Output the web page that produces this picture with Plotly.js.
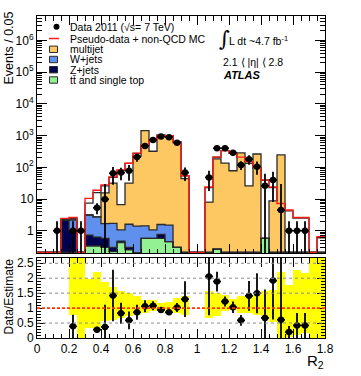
<!DOCTYPE html>
<html>
<head>
<meta charset="utf-8">
<script src="https://cdn.plot.ly/plotly-3.0.1.min.js"></script>
<style>
  body { margin: 0; background: #fff; }
  #chart { width: 361px; height: 376px; }
</style>
</head>
<body>
<div id="chart"></div>
<script>
// R2 histogram, 36 bins of 0.05 from 0 to 1.8
const binWidth = 0.05;
const nBins = 36;

// stacked backgrounds (per bin)
const ttbar    = [0, 0, 0, 0, 0, 0, 0.33, 0.33, 0.3, 0.22, 0.42, 0.25, 0.2, 0.57, 0.57, 0.57, 0.45, 0.3,
                  0, 0, 0, 0, 0.26, 0, 0, 0, 0, 0, 0.57, 0, 0, 0, 0, 0, 0, 0];
const zjets    = [0, 0, 0, 2.2, 1.0, 0, 0.4, 0.3, 0.27, 0.08, 0.05, 0.05, 0, 0, 0, 0.2, 0, 0,
                  0, 0, 0, 0, 0, 0, 0, 0, 0, 0, 0, 0, 0, 0, 0, 0, 0, 0];
const wjets    = [0, 0, 0, 0, 1.2, 0, 2.4, 2.1, 1.1, 1.4, 0.6, 1.3, 1.2, 0.85, 0.5, 0.8, 1.05, 0,
                  0, 0, 0, 0, 0, 0, 0, 0, 0, 0, 0, 0, 0, 0, 0, 0, 0, 0];
const multijet = [0, 0, 0, 0, 0, 0, 0, 0, 14, 30, 5.6, 30, 220, 1440, 320, 1050, 975, 640,
                  44, 0, 0, 8, 185, 135, 78, 285, 26, 263, 0, 8.7, 245, 0, 0, 0, 0, 0];

// pseudo-data histogram (white, drawn behind the stack)
const pseudoData = [0, 0, 0, 2.35, 2.45, 0, 7.4, 16, 26, 48, 80, 133, 275, 500, 720, 990, 1000, 600,
                    54, 0, 0, 23, 208, 335, 275, 210, 133, 95, 39, 23, 7, 4.2, 2.5, 2.5, 0, 0.6];
// pseudo-data + non-QCD MC (red line)
const pseudoPlusMC = [0, 0, 0, 2.45, 2.6, 0, 10.5, 19, 28, 50, 82, 135, 280, 500, 720, 990, 1000, 600,
                      54, 0, 0, 24, 210, 335, 275, 210, 150, 100, 40, 24, 7.2, 4.5, 2.6, 2.6, 0, 0.65];

// data 2011
const dataVals = [null, null, 1, null, 1, 1, null, 5.3, 9.8, 65, 68, 78, 210, 470, 730, 930, 890, 600,
                  68, null, null, 48, 400, 400, 290, 118, 180, 105, 26, 40, 4.5, 1, 1, 1, null, null];
const dataErr  = [null, null, 1, null, 1, 1, null, 2, 20, 37, 29, 40, 60, 90, 100, 95, 80, 90,
                  31, null, null, 30, 70, 55, 55, 36, 60, 47, 37, 32, 25, 1, 1, 1, null, null];

// ratio panel
const ratioVals = [null, null, null, null, 0.39, null, null, 0.28, 0.37, 1.42, 0.83, 0.59, 0.86, 1.06, 1.08, 0.94, 0.86, 1.02,
                   1.3, null, null, 2.06, 1.89, 1.22, 1.03, 0.59, 1.41, 1.5, 0.67, 1.92, 0.61, 0.2, 0.42, 0.42, null, null];
const ratioErr  = [null, null, null, null, 0.39, null, null, 0.1, 0.74, 0.86, 0.35, 0.3, 0.25, 0.2, 0.15, 0.1, 0.08, 0.15,
                   0.6, null, null, 1.3, 0.33, 0.17, 0.19, 0.18, 0.5, 0.67, 0.95, 1.3, 2.5, 0.2, 0.42, 0.42, null, null];
const bandLo = [null, null, null, null, 0.78, 0, 0.33, 0.22, 0.56, 0.61, 0.67, 0.72, 0.78, 0.83, 0.89, 0.89, 0.86, 0.83,
                0.78, null, null, 0.67, 0.72, 0.89, 0.95, 0.83, 0.83, 0.78, 0.67, 0.55, 0, 0.05, 0.1, 0.17, 0, 0];
const bandHi = [null, null, null, null, 2.8, 2.8, 1.97, 2.22, 1.89, 1.72, 1.56, 1.52, 1.39, 1.28, 1.28, 1.17, 1.19, 1.33,
                1.39, null, null, 1.56, 1.5, 1.44, 1.3, 1.39, 1.39, 1.44, 1.56, 1.6, 2.22, 1.78, 2.28, 2.17, 2.8, 2.8];

const ratioGrid = [0.5, 1.5, 2, 2.5];
const logTicks = [1, 10, 100, 1e3, 1e4, 1e5, 1e6];
const logTickText = ['1', '10', '10<sup>2</sup>', '10<sup>3</sup>', '10<sup>4</sup>', '10<sup>5</sup>', '10<sup>6</sup>'];

const binCenters = Array.from({length: nBins}, (_, i) => (i + 0.5) * binWidth);
const binEdges = Array.from({length: nBins + 1}, (_, i) => i * binWidth);

const colors = {
    multijet: '#fdc862',
    wjets: '#5f90ee',
    zjets: '#00004f',
    ttbar: '#93f093',
    outline: '#2b2b2b',
    red: '#ff1a1a',
    band: '#ffff00'
};

const yLogRange = [-0.703, 6.773];
const floorVal = Math.pow(10, yLogRange[0] + 0.02);

function stepTrace(vals, color, width, yaxis) {
    const y = vals.map(v => v > 0 ? v : floorVal);
    y.push(y[y.length - 1]);
    return {
        type: 'scatter', mode: 'lines', x: binEdges, y: y, yaxis: yaxis,
        line: {shape: 'hv', color: color, width: width},
        hoverinfo: 'skip', showlegend: false
    };
}

function barTrace(vals, color, yaxis) {
    return {
        type: 'bar', x: binCenters, y: vals, width: binWidth, yaxis: yaxis,
        marker: {color: color, line: {width: 0}},
        hoverinfo: 'skip', showlegend: false
    };
}

// cumulative levels for the stack outlines
const cumZ = ttbar.map((v, i) => v + zjets[i]);
const cumW = cumZ.map((v, i) => v + wjets[i]);
const cumAll = cumW.map((v, i) => v + multijet[i]);

const traces = [
    // behind: pseudo-data in white
    barTrace(pseudoData, '#ffffff', 'y'),
    stepTrace(pseudoData, colors.outline, 1.3, 'y'),
    // stack on the overlaying axis
    barTrace(ttbar, colors.ttbar, 'y3'),
    barTrace(zjets, colors.zjets, 'y3'),
    barTrace(wjets, colors.wjets, 'y3'),
    barTrace(multijet, colors.multijet, 'y3'),
    stepTrace(ttbar, colors.outline, 1.3, 'y3'),
    stepTrace(cumZ, colors.outline, 1.3, 'y3'),
    stepTrace(cumW, colors.outline, 1.3, 'y3'),
    stepTrace(cumAll, colors.outline, 1.3, 'y3'),
    stepTrace(pseudoPlusMC, colors.red, 1.4, 'y3'),
    {
        type: 'scatter', mode: 'markers', x: binCenters, y: dataVals, yaxis: 'y3',
        marker: {color: 'black', size: 6.5},
        error_y: {type: 'data', array: dataErr, visible: true, color: 'black', thickness: 1.8, width: 0},
        error_x: {type: 'constant', value: binWidth / 2, visible: true, color: 'black', thickness: 1.8, width: 0},
        hoverinfo: 'skip', showlegend: false
    },
    // ratio panel
    {
        type: 'bar', x: binCenters, base: bandLo,
        y: bandHi.map((h, i) => h === null ? null : h - bandLo[i]),
        width: binWidth, xaxis: 'x2', yaxis: 'y2',
        marker: {color: colors.band, line: {width: 0}},
        hoverinfo: 'skip', showlegend: false
    },
    {
        type: 'scatter', mode: 'markers', x: binCenters, y: ratioVals, xaxis: 'x2', yaxis: 'y2',
        marker: {color: 'black', size: 6.5},
        error_y: {type: 'data', array: ratioErr, visible: true, color: 'black', thickness: 1.8, width: 0},
        error_x: {type: 'constant', value: binWidth / 2, visible: true, color: 'black', thickness: 1.8, width: 0},
        hoverinfo: 'skip', showlegend: false
    }
];

// pixel -> paper helpers for the hand-drawn legend and labels
const W = 361, H = 376;
const M = {l: 37, r: 36, t: 16, b: 38};
const px = x => (x - M.l) / (W - M.l - M.r);
const py = y => (H - M.b - y) / (H - M.t - M.b);

const font = {family: 'Liberation Sans, Arial, sans-serif', size: 12, color: 'black'};

const xCommon = {
    range: [0, 1.8], dtick: 0.2, tick0: 0,
    ticks: 'inside', ticklen: 9, tickwidth: 1, tickcolor: 'black',
    showline: true, linecolor: 'black', linewidth: 1, mirror: 'ticks',
    showgrid: false, zeroline: false,
    minor: {ticks: 'inside', ticklen: 4.5, dtick: 0.05, tickcolor: 'black', showgrid: false}
};

const legendRows = [
    {y: 26.7, text: 'Data 2011 (√s= 7 TeV)', kind: 'marker'},
    {y: 38.5, text: 'Pseudo-data + non-QCD MC', kind: 'line'},
    {y: 49.3, text: 'multijet', kind: 'box', color: colors.multijet},
    {y: 59.5, text: 'W+jets', kind: 'box', color: colors.wjets},
    {y: 69.7, text: 'Z+jets', kind: 'box', color: colors.zjets},
    {y: 80.0, text: 'tt\u0304 and single top', kind: 'box', color: colors.ttbar}
];

const shapes = [];
const annotations = [];

legendRows.forEach(row => {
    annotations.push({
        xref: 'paper', yref: 'paper', x: px(67.5), y: py(row.y),
        xanchor: 'left', yanchor: 'middle', showarrow: false,
        text: row.text, font: {family: font.family, size: 10.5, color: 'black'}
    });
    if (row.kind === 'marker') {
        shapes.push({type: 'circle', xref: 'paper', yref: 'paper',
            x0: px(53.5), x1: px(59.5), y0: py(row.y + 3), y1: py(row.y - 3),
            fillcolor: 'black', line: {width: 0}});
    } else if (row.kind === 'line') {
        shapes.push({type: 'line', xref: 'paper', yref: 'paper',
            x0: px(49), x1: px(59), y0: py(row.y), y1: py(row.y),
            line: {color: colors.red, width: 1.5}});
    } else {
        shapes.push({type: 'rect', xref: 'paper', yref: 'paper',
            x0: px(49.5), x1: px(57.5), y0: py(row.y + 3.2), y1: py(row.y - 3.2),
            fillcolor: row.color, line: {color: colors.outline, width: 1}});
    }
});

// ratio panel reference lines
ratioGrid.forEach(v => {
    shapes.push({type: 'line', xref: 'x2', yref: 'y2', x0: 0, x1: 1.8, y0: v, y1: v,
        layer: 'above', line: {color: '#8c8c8c', width: 1, dash: '3px,3px'}});
});
shapes.push({type: 'line', xref: 'x2', yref: 'y2', x0: 0, x1: 1.8, y0: 1, y1: 1,
    layer: 'above', line: {color: '#ff3300', width: 1.8, dash: '3px,2px'}});

annotations.push(
    {xref: 'paper', yref: 'paper', x: px(224), y: py(39), xanchor: 'center', yanchor: 'middle',
     showarrow: false, text: '∫', font: {family: 'DejaVu Serif, serif', size: 21, color: 'black'}},
    {xref: 'paper', yref: 'paper', x: px(226.5), y: py(40.5), xanchor: 'left', yanchor: 'middle',
     showarrow: false, text: 'L dt ~4.7 fb<sup>-1</sup>', font: {family: font.family, size: 10.5, color: 'black'}},
    {xref: 'paper', yref: 'paper', x: px(220.5), y: py(62), xanchor: 'left', yanchor: 'middle',
     showarrow: false, text: '2.1 ⟨ |η| ⟨ 2.8', font: {family: font.family, size: 10.5, color: 'black'}},
    {xref: 'paper', yref: 'paper', x: px(220.5), y: py(74.5), xanchor: 'left', yanchor: 'middle',
     showarrow: false, text: '<b><i>ATLAS</i></b>', font: {family: font.family, size: 11, color: 'black'}},
    {xref: 'paper', yref: 'paper', x: px(8.5), y: py(48), xanchor: 'center', yanchor: 'middle',
     showarrow: false, textangle: -90, text: 'Events / 0.05', font: {family: font.family, size: 12.5, color: 'black'}},
    {xref: 'paper', yref: 'paper', x: px(8.5), y: py(297), xanchor: 'center', yanchor: 'middle',
     showarrow: false, textangle: -90, text: 'Data/Estimate', font: {family: font.family, size: 12, color: 'black'}},
    {xref: 'paper', yref: 'paper', x: px(325.5), y: py(361), xanchor: 'right', yanchor: 'middle',
     showarrow: false, text: 'R<sub>2</sub>', font: {family: font.family, size: 15, color: 'black'}}
);

const layout = {
    width: W, height: H,
    margin: M,
    paper_bgcolor: 'white', plot_bgcolor: 'white',
    font: font,
    showlegend: false,
    barmode: 'stack', bargap: 0,
    xaxis: Object.assign({}, xCommon, {anchor: 'y', domain: [0, 1], showticklabels: false}),
    xaxis2: Object.assign({}, xCommon, {anchor: 'y2', domain: [0, 1], matches: 'x', showticklabels: true}),
    yaxis: {
        domain: [py(253), 1], type: 'log', range: yLogRange, anchor: 'x',
        tickvals: logTicks, ticktext: logTickText,
        ticks: 'inside', ticklen: 10, tickcolor: 'black',
        showline: true, linecolor: 'black', linewidth: 1, mirror: 'ticks',
        showgrid: false, zeroline: false,
        minor: {ticks: 'inside', ticklen: 5, dtick: 'D1', tickcolor: 'black', showgrid: false}
    },
    yaxis3: {
        overlaying: 'y', type: 'log', range: yLogRange, anchor: 'x', visible: false
    },
    yaxis2: {
        domain: [0, py(258)], range: [0, 2.677], anchor: 'x2',
        dtick: 0.5, tick0: 0,
        ticks: 'inside', ticklen: 8, tickcolor: 'black',
        showline: true, linecolor: 'black', linewidth: 1, mirror: 'ticks',
        showgrid: false, zeroline: false,
        minor: {ticks: 'inside', ticklen: 4, dtick: 0.1, tickcolor: 'black', showgrid: false}
    },
    shapes: shapes,
    annotations: annotations
};

Plotly.newPlot('chart', traces, layout, {displayModeBar: false, staticPlot: true});
</script>
</body>
</html>
